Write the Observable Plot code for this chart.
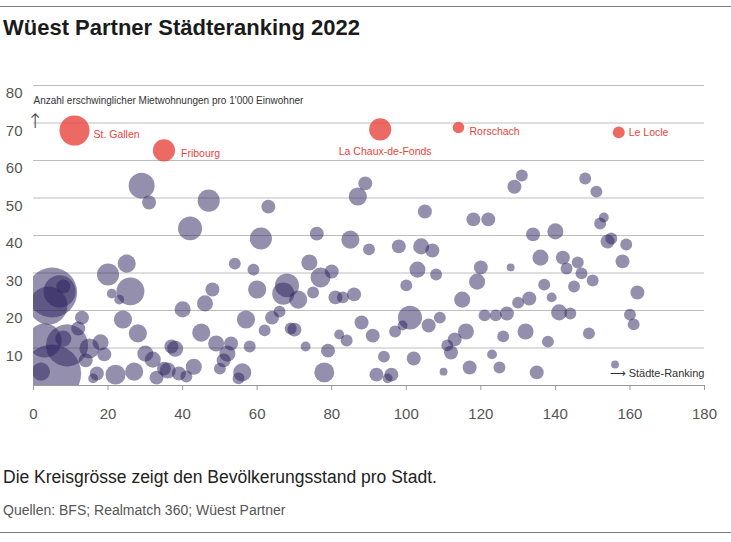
<!DOCTYPE html>
<html>
<head>
<meta charset="utf-8">
<script src="https://cdn.jsdelivr.net/npm/d3@7"></script>
<script src="https://cdn.jsdelivr.net/npm/@observablehq/plot@0.6"></script>
<style>
  body { margin: 0; background: #fff; font-family: "Liberation Sans", Arial, sans-serif; }
  #wrap { position: relative; width: 731px; height: 542px; overflow: hidden; }
  .rule { position: absolute; left: 0; width: 731px; height: 1px; background: #7a7a7a; }
  h1 { position: absolute; left: 3px; top: 15px; margin: 0; font-size: 22px; font-weight: 700; color: #1b1b1b; }
  #chart { position: absolute; left: 0; top: 55px; }
  .cap { position: absolute; left: 3px; top: 467px; font-size: 17.5px; color: #222; }
  .src { position: absolute; left: 3px; top: 502px; font-size: 14px; color: #555; }
</style>
</head>
<body>
<div id="wrap">
  <div class="rule" style="top:6px"></div>
  <h1>Wüest Partner Städteranking 2022</h1>
  <div id="chart"></div>
  <div class="cap">Die Kreisgrösse zeigt den Bevölkerungsstand pro Stadt.</div>
  <div class="src">Quellen: BFS; Realmatch 360; Wüest Partner</div>
  <div class="rule" style="top:532px"></div>
</div>
<script>
// ---- data ----
const ranks = [
  5,4,7,8,3,9,8,5,2,12,
  13,15,18,19,14,17,16,22,20,21,
  23,25,26,24,28,27,29,31,30,32,
  33,35,36,37,38,39,41,43,40,42,
  45,46,47,48,49,50,51,52,53,54,
  55,56,57,58,59,60,61,62,63,64,
  66,67,68,69,70,71,73,74,75,76,
  77,78,79,80,81,82,83,84,85,86,
  87,88,89,90,91,92,94,95,96,97,
  98,99,100,101,102,103,104,105,106,107,
  108,109,110,111,112,113,115,116,117,118,
  119,120,121,122,123,124,125,126,127,128,
  129,130,131,132,133,134,135,136,137,138,
  139,140,141,142,143,144,145,146,147,148,
  149,150,151,152,153,154,155,156,158,159,
  160,161,162
];
const affordable = [
  24.8,21.3,25.1,26.4,12,10.7,12.5,3.2,3.7,15.2,
  18.1,9.9,11.5,8.3,6.7,3.2,1.9,2.9,29.6,24.5,
  22.9,32.5,25.1,17.6,13.9,3.7,53.3,48.8,8.5,6.9,
  2.1,4.5,4,10.4,9.8,3.2,2.4,5,20.3,41.9,
  14.1,21.9,49.3,25.6,11.2,4.5,6.7,8.5,11.2,32.5,
  1.9,3.5,17.6,10.4,30.9,25.6,39.2,14.7,47.7,18.1,
  19.7,24.5,26.7,15.2,14.9,22.9,10.4,32.8,24.8,40.5,
  28.8,3.5,9.3,30.4,23.5,13.6,23.5,12,38.9,24.3,
  50.4,16.8,53.9,36.3,13.3,2.9,7.7,1.9,2.9,14.4,
  37.1,16,26.7,18.1,7.2,30.9,37.1,46.4,16,36,
  29.6,18.1,3.7,10.7,8.8,12.3,22.9,14.4,4.8,44.3,
  27.7,31.5,18.7,44.3,8.3,18.7,4.8,13.1,19.2,31.5,
  53,22.1,56,14.4,23.2,40.3,3.5,34.1,26.9,11.7,
  23.5,41.1,19.5,34.1,31.2,19.2,26.4,32.8,29.9,55.2,
  13.9,28,51.7,43.2,44.8,38.4,39.2,5.6,33.1,37.6,
  18.9,16.3,24.8
];
// population in thousands
const population = [
  282,163,116,22,130,200,29,380,37,22,
  22,45,29,22,22,22,11,45,55,11,
  11,37,88,37,37,37,76,22,29,29,
  22,22,29,22,29,22,16,29,29,65,
  37,29,55,22,29,16,22,29,22,16,
  16,37,37,16,16,37,55,16,22,22,
  16,55,65,16,22,37,11,29,16,22,
  45,45,22,22,22,11,16,16,37,22,
  37,22,22,16,22,22,16,11,22,16,
  22,11,16,65,22,29,29,22,22,22,
  16,16,7,16,22,22,29,29,22,22,
  29,22,16,22,11,16,16,16,22,7,
  22,16,16,29,22,22,22,29,16,16,
  11,29,29,22,16,16,16,16,16,16,
  16,16,16,16,11,22,16,7,22,16,
  16,16,22
];
const hlNames = ["St. Gallen", "Fribourg", "La Chaux-de-Fonds", "Rorschach", "Le Locle"];
const hlRanks = [11, 35, 93, 114, 157];
const hlValues = [68, 62.7, 68.3, 68.8, 67.5];
const hlPopulation = [102, 55, 55, 15, 16];
const xTicks = [0, 20, 40, 60, 80, 100, 120, 140, 160, 180];
const yTicks = [10, 20, 30, 40, 50, 60, 70, 80];
const yLabel = "Anzahl erschwinglicher Mietwohnungen pro 1'000 Einwohner";
const xLabel = "Städte-Ranking";

// ---- build ----
const cities = ranks.map((r, i) => ({rank: r, value: affordable[i], pop: population[i]}));
const highlights = hlNames.map((n, i) => ({name: n, rank: hlRanks[i], value: hlValues[i], pop: hlPopulation[i]}));

const labelPlacement = {
  "St. Gallen": {dx: 19, dy: 4, textAnchor: "start"},
  "Fribourg": {dx: 17, dy: 3, textAnchor: "start"},
  "La Chaux-de-Fonds": {dx: 5, dy: 22, textAnchor: "middle"},
  "Rorschach": {dx: 11, dy: 4, textAnchor: "start"},
  "Le Locle": {dx: 10, dy: 0, textAnchor: "start"}
};

const red = "#e8433c";
const font = '"Liberation Sans", Arial, sans-serif';

const chart = Plot.plot({
  width: 731,
  height: 370,
  marginTop: 30,
  marginBottom: 40,
  marginLeft: 33,
  marginRight: 27,
  style: {fontFamily: font, fontSize: "15px", color: "#555", background: "#fff", overflow: "visible"},
  x: {domain: [0, 180]},
  y: {domain: [0, 80]},
  r: {domain: [0, 420], range: [0, 30.5]},
  marks: [
    Plot.gridY(yTicks, {stroke: "#bdbdbd", strokeOpacity: 1}),
    Plot.axisY(yTicks, {tickSize: 0, tickPadding: 11, dy: 8, label: null, fontSize: 15, fill: "#555"}),
    Plot.ruleY([0], {stroke: "#9a9a9a"}),
    Plot.axisX(xTicks, {tickSize: 5, tickPadding: 18, label: null, stroke: "#9a9a9a", fontSize: 15, fill: "#555"}),
    Plot.dot(cities, {x: "rank", y: "value", r: "pop", fill: "#2a1f5c", fillOpacity: 0.5, stroke: null, clip: true}),
    Plot.dot(highlights, {x: "rank", y: "value", r: "pop", fill: red, fillOpacity: 0.8, stroke: null}),
    ...highlights.map(h => Plot.text([h], {
      x: "rank", y: "value", text: "name", fill: red, fontSize: 10.5,
      ...labelPlacement[h.name]
    })),
    Plot.text([yLabel], {frameAnchor: "top-left", dy: 11, textAnchor: "start", fontSize: 10, fill: "#333"}),
    Plot.text(["↑"], {frameAnchor: "top-left", dy: 28, dx: 1.5, textAnchor: "middle", fontSize: 20, fontWeight: 300, fontFamily: "DejaVu Sans", fill: "#444"}),
    Plot.text(["⟶ " + xLabel], {frameAnchor: "bottom-right", dy: -9, textAnchor: "end", fontSize: 11, fill: "#333"})
  ]
});
document.getElementById("chart").appendChild(chart);
</script>
</body>
</html>
